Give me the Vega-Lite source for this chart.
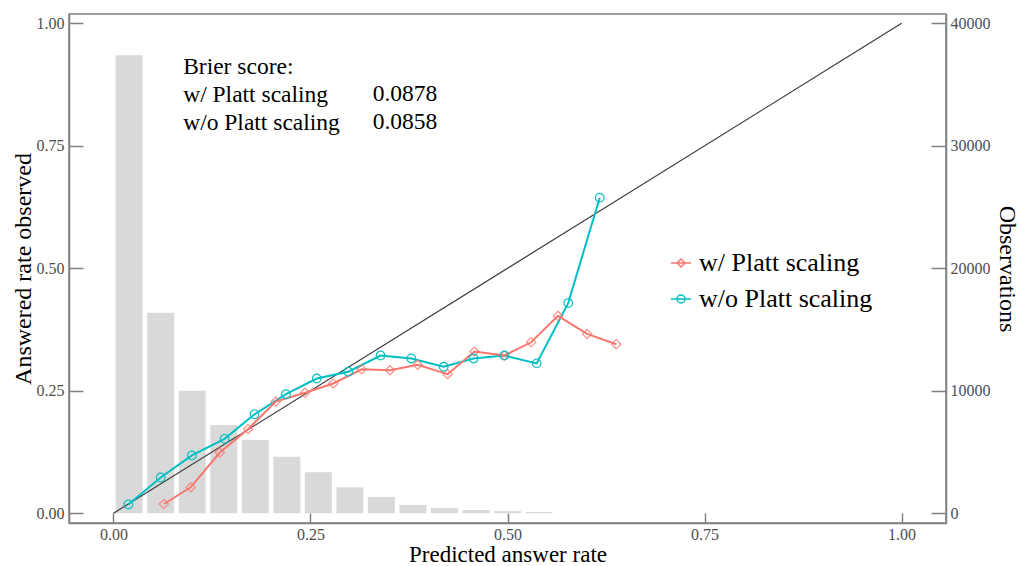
{
  "$schema": "https://vega.github.io/schema/vega-lite/v6.json",
  "width": 877,
  "height": 509,
  "autosize": {"type": "none"},
  "padding": {"left": 69, "top": 14, "right": 73, "bottom": 43},
  "background": "white",
  "config": {
    "view": {"stroke": "#808080", "strokeWidth": 1.5},
    "font": "Liberation Serif",
    "axis": {
      "grid": false,
      "domainColor": "#808080",
      "domainWidth": 1.5,
      "tickColor": "#808080",
      "tickWidth": 1.5,
      "labelFont": "Liberation Serif",
      "labelFontSize": 16,
      "labelColor": "#4d4d4d",
      "titleFont": "Liberation Serif",
      "titleFontSize": 24,
      "titleFontWeight": "normal",
      "titleColor": "black"
    }
  },
  "datasets": {
    "hist": [
      {"pred": 0.02, "count": 37400},
      {"pred": 0.06, "count": 16380},
      {"pred": 0.10, "count": 10010},
      {"pred": 0.14, "count": 7210},
      {"pred": 0.18, "count": 5980},
      {"pred": 0.22, "count": 4620},
      {"pred": 0.26, "count": 3350},
      {"pred": 0.30, "count": 2120},
      {"pred": 0.34, "count": 1340},
      {"pred": 0.38, "count": 680},
      {"pred": 0.42, "count": 430},
      {"pred": 0.46, "count": 270},
      {"pred": 0.50, "count": 190},
      {"pred": 0.54, "count": 110}
    ],
    "calib": [
      {"series": "w/o Platt scaling", "pred": 0.019, "obs": 0.018},
      {"series": "w/o Platt scaling", "pred": 0.060, "obs": 0.073},
      {"series": "w/o Platt scaling", "pred": 0.0995, "obs": 0.118},
      {"series": "w/o Platt scaling", "pred": 0.141, "obs": 0.152},
      {"series": "w/o Platt scaling", "pred": 0.179, "obs": 0.202},
      {"series": "w/o Platt scaling", "pred": 0.219, "obs": 0.243},
      {"series": "w/o Platt scaling", "pred": 0.258, "obs": 0.275},
      {"series": "w/o Platt scaling", "pred": 0.298, "obs": 0.289},
      {"series": "w/o Platt scaling", "pred": 0.339, "obs": 0.322},
      {"series": "w/o Platt scaling", "pred": 0.378, "obs": 0.316},
      {"series": "w/o Platt scaling", "pred": 0.419, "obs": 0.299},
      {"series": "w/o Platt scaling", "pred": 0.457, "obs": 0.316},
      {"series": "w/o Platt scaling", "pred": 0.496, "obs": 0.322},
      {"series": "w/o Platt scaling", "pred": 0.537, "obs": 0.306},
      {"series": "w/o Platt scaling", "pred": 0.577, "obs": 0.429},
      {"series": "w/o Platt scaling", "pred": 0.617, "obs": 0.644},
      {"series": "w/ Platt scaling", "pred": 0.064, "obs": 0.019},
      {"series": "w/ Platt scaling", "pred": 0.098, "obs": 0.053},
      {"series": "w/ Platt scaling", "pred": 0.135, "obs": 0.124},
      {"series": "w/ Platt scaling", "pred": 0.171, "obs": 0.172},
      {"series": "w/ Platt scaling", "pred": 0.206, "obs": 0.228},
      {"series": "w/ Platt scaling", "pred": 0.243, "obs": 0.246},
      {"series": "w/ Platt scaling", "pred": 0.279, "obs": 0.265},
      {"series": "w/ Platt scaling", "pred": 0.315, "obs": 0.294},
      {"series": "w/ Platt scaling", "pred": 0.351, "obs": 0.292},
      {"series": "w/ Platt scaling", "pred": 0.386, "obs": 0.303},
      {"series": "w/ Platt scaling", "pred": 0.424, "obs": 0.284},
      {"series": "w/ Platt scaling", "pred": 0.458, "obs": 0.330},
      {"series": "w/ Platt scaling", "pred": 0.496, "obs": 0.322},
      {"series": "w/ Platt scaling", "pred": 0.530, "obs": 0.349},
      {"series": "w/ Platt scaling", "pred": 0.564, "obs": 0.403},
      {"series": "w/ Platt scaling", "pred": 0.601, "obs": 0.366},
      {"series": "w/ Platt scaling", "pred": 0.638, "obs": 0.345}
    ]
  },
  "layer": [
    {
      "data": {"name": "hist"},
      "mark": {"type": "bar", "width": 27, "color": "#d9d9d9"},
      "encoding": {
        "x": {
          "field": "pred", "type": "quantitative",
          "scale": {"domain": [-0.05, 1.05], "nice": false, "zero": false},
          "axis": {"values": [0, 0.25, 0.5, 0.75, 1], "format": ".2f", "tickSize": -10, "labelPadding": 13, "title": "Predicted answer rate", "titleFontSize": 23, "titleBaseline": "alphabetic", "titleY": 38}
        },
        "y": {
          "field": "count", "type": "quantitative",
          "scale": {"domain": [-792, 40760], "nice": false, "zero": false},
          "axis": {"orient": "right", "values": [0, 10000, 20000, 30000, 40000], "format": "d", "tickSize": -15, "labelPadding": 19, "title": "Observations", "titleBaseline": "alphabetic", "titleX": 53}
        }
      }
    },
    {
      "data": {"name": "calib"},
      "layer": [
        {
          "data": {"values": [{}]},
          "mark": {"type": "rule", "color": "#3a3a3a", "strokeWidth": 1.2},
          "encoding": {
            "x": {"datum": 0, "type": "quantitative"},
            "y": {"datum": 0, "type": "quantitative"},
            "x2": {"datum": 1},
            "y2": {"datum": 1}
          }
        },
        {
          "mark": {"type": "line", "strokeWidth": 2},
          "encoding": {
            "x": {"field": "pred", "type": "quantitative"},
            "y": {
              "field": "obs", "type": "quantitative",
              "scale": {"domain": [-0.0198, 1.019], "nice": false, "zero": false},
              "axis": {"orient": "left", "values": [0, 0.25, 0.5, 0.75, 1], "format": ".2f", "tickSize": -14, "labelPadding": 19, "title": "Answered rate observed", "titleBaseline": "alphabetic", "titleX": -39}
            },
            "color": {
              "field": "series", "type": "nominal",
              "scale": {"domain": ["w/ Platt scaling", "w/o Platt scaling"], "range": ["#F8766D", "#00BFC4"]},
              "legend": {
                "title": null,
                "orient": "none",
                "legendX": 599,
                "legendY": 236,
                "padding": 0,
                "labelFont": "Liberation Serif",
                "labelFontSize": 26,
                "labelColor": "black",
                "labelLimit": 400,
                "labelOffset": 5,
                "symbolSize": 400,
                "symbolStrokeWidth": 1.5,
                "rowPadding": 10,
                "encode": {
                  "symbols": {
                    "update": {
                      "shape": {"signal": "datum.value === 'w/ Platt scaling' ? 'M-1,0H1M0,-0.4L0.4,0L0,0.4L-0.4,0Z' : 'M-1,0H1M0.4,0A0.4,0.4,0,1,1,-0.4,0A0.4,0.4,0,1,1,0.4,0Z'"},
                      "fill": {"value": "transparent"}
                    }
                  }
                }
              }
            }
          }
        },
        {
          "transform": [{"filter": "datum.series === 'w/ Platt scaling'"}],
          "mark": {"type": "point", "shape": "diamond", "filled": false, "size": 85, "strokeWidth": 1.2, "color": "#F8766D", "opacity": 0.8},
          "encoding": {
            "x": {"field": "pred", "type": "quantitative"},
            "y": {"field": "obs", "type": "quantitative"}
          }
        },
        {
          "transform": [{"filter": "datum.series === 'w/o Platt scaling'"}],
          "mark": {"type": "point", "shape": "circle", "filled": false, "size": 75, "strokeWidth": 1.2, "color": "#00BFC4", "opacity": 0.95},
          "encoding": {
            "x": {"field": "pred", "type": "quantitative"},
            "y": {"field": "obs", "type": "quantitative"}
          }
        },
        {
          "data": {"values": [{}]},
          "mark": {"type": "text", "text": ["Brier score:", "w/ Platt scaling", "w/o Platt scaling"], "align": "left", "baseline": "alphabetic", "lineHeight": 28, "font": "Liberation Serif", "fontSize": 23.5, "color": "black"},
          "encoding": {
            "x": {"datum": 0.0885, "type": "quantitative"},
            "y": {"datum": 0.8965, "type": "quantitative"}
          }
        },
        {
          "data": {"values": [{}]},
          "mark": {"type": "text", "text": ["0.0878", "0.0858"], "align": "left", "baseline": "alphabetic", "lineHeight": 28, "font": "Liberation Serif", "fontSize": 23.5, "color": "black"},
          "encoding": {
            "x": {"datum": 0.329, "type": "quantitative"},
            "y": {"datum": 0.841, "type": "quantitative"}
          }
        }
      ]
    }
  ],
  "resolve": {"scale": {"y": "independent"}}
}
